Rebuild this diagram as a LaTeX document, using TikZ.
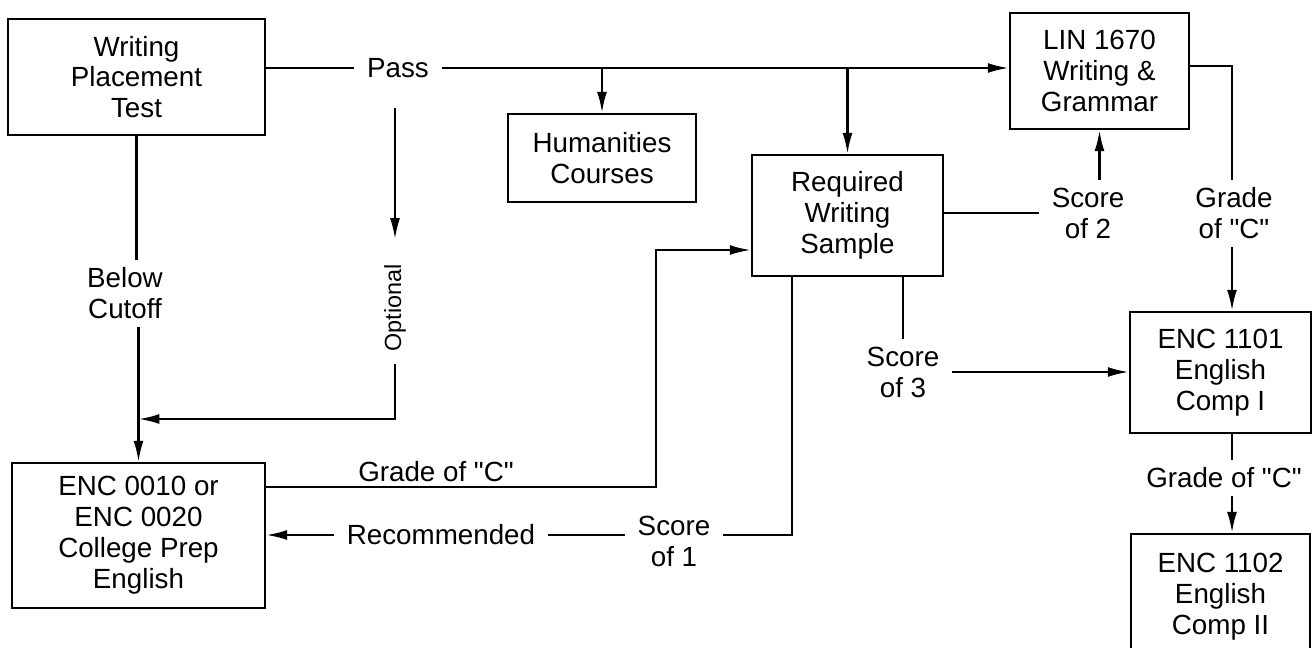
\documentclass[tikz,border=0pt]{standalone}
\usepackage{fontspec}
\setmainfont{Liberation Sans}[Ligatures=TeXOff]
\usetikzlibrary{arrows.meta}
\begin{document}
\begin{tikzpicture}[x=0.02cm,y=-0.02cm,
  every node/.style={font=\fontsize{15.8}{17.6}\selectfont},
  box/.style={draw, line width=1.4pt, align=center, inner sep=0pt},
  lbl/.style={align=center, inner xsep=0.25cm, inner ysep=0.15cm},
  conn/.style={line width=1.3pt},
  arr/.style={conn, -{Latex[length=0.42cm,width=0.2cm]}}]
\useasboundingbox (0,0) rectangle (1316,647);

% boxes
\node[box, minimum width=5.14cm, minimum height=2.32cm] (wpt) at (136.5,77) {Writing\\Placement\\Test};
\node[box, minimum width=3.76cm, minimum height=1.76cm] (hum) at (602,158) {Humanities\\Courses};
\node[box, minimum width=3.82cm, minimum height=2.42cm] (rws) at (847.5,215.5) {Required\\Writing\\Sample};
\node[box, minimum width=3.58cm, minimum height=2.32cm] (lin) at (1099.5,71) {LIN 1670\\Writing \&\\Grammar};
\node[box, minimum width=3.62cm, minimum height=2.42cm] (e1101) at (1220.5,372.5) {ENC 1101\\English\\Comp I};
\node[box, minimum width=3.58cm, minimum height=2.52cm] (e1102) at (1220.5,597) {ENC 1102\\English\\Comp II};
\node[box, minimum width=5.06cm, minimum height=2.90cm] (e0010) at (138.5,535.5) {ENC 0010 or\\ENC 0020\\College Prep\\English};

% labels
\node[lbl] (pass) at (398,68) {Pass};
\node[lbl] (below) at (125,293) {Below\\Cutoff};
\node[lbl, rotate=90, font=\fontsize{13.3}{15}\selectfont] (optional) at (395,308) {Optional};
\node[lbl] (gradeA) at (436,472) {Grade of "C"};
\node[lbl] (rec) at (441,535) {Recommended};
\node[lbl] (score1) at (674,541) {Score\\of 1};
\node[lbl] (score2) at (1088,213) {Score\\of 2};
\node[lbl] (gradeB) at (1234,213) {Grade\\of "C"};
\node[lbl] (score3) at (903,372) {Score\\of 3};
\node[lbl] (gradeC) at (1224,478) {Grade of "C"};

% helper coordinates
\coordinate (optop) at (395,108);
\coordinate (opc) at (395,419);
\coordinate (g1a) at (656,487);
\coordinate (g1b) at (656,250);
\coordinate (s1) at (792,535);
\coordinate (l1) at (1232,66);

% connectors
\draw[conn] (wpt.east |- pass) -- (pass.west);
\draw[arr] (pass.east) -- (lin.west |- pass);
\draw[arr] (hum.north |- pass) -- (hum.north);
\draw[arr] (rws.north |- pass) -- (rws.north);

\draw[arr, shorten >=0.25cm] (optop) -- (optional.east);
\draw[arr] (optional.west) -- (opc) -- (e0010.north |- opc);

\draw[conn] (wpt.south) -- (wpt.south |- below.north);
\draw[arr] (e0010.north |- below.south) -- (e0010.north);

\draw[arr] (e0010.east |- g1a) -- (g1a) -- (g1b) -- (rws.west |- g1b);

\draw[arr] (rec.west) -- (e0010.east |- rec);
\draw[conn] (rec.east) -- (score1.west |- rec);
\draw[conn] (score1.east |- rec) -- (s1) -- (s1 |- rws.south);

\draw[conn] (rws.east |- score2) -- (score2.west);
\draw[arr] (lin.south |- score2.north) -- (lin.south);

\draw[conn] (lin.east |- l1) -- (l1) -- (l1 |- gradeB.north);
\draw[arr] (l1 |- gradeB.south) -- (l1 |- e1101.north);

\draw[conn] (score3.north) -- (score3.north |- rws.south);
\draw[arr] (score3.east) -- (e1101.west |- score3.east);

\draw[conn] (l1 |- e1101.south) -- (l1 |- gradeC.north);
\draw[arr] (l1 |- gradeC.south) -- (l1 |- e1102.north);
\end{tikzpicture}
\end{document}
